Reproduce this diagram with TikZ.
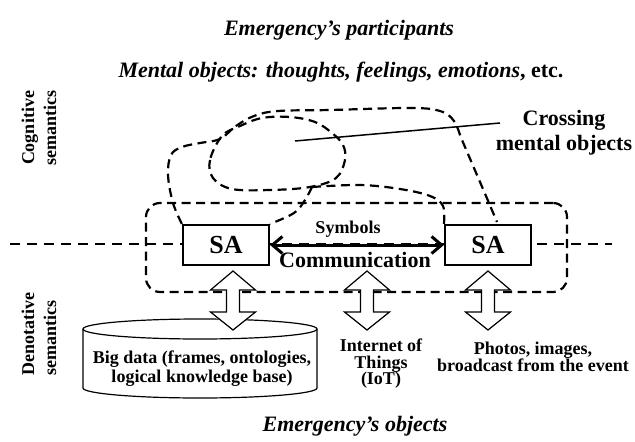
\documentclass[tikz,border=0pt]{standalone}
\usepackage{fontspec}
\setmainfont{Liberation Serif}
\usetikzlibrary{arrows.meta}
\newcommand{\tightlines}{\lineskiplimit=-20pt\relax}
\begin{document}
\begin{tikzpicture}[x=1pt,y=-1pt,
  txt/.style={inner sep=0pt, font=\bfseries},
  dline/.style={line width=2.2pt, dash pattern=on 10pt off 7pt},
  dcurve/.style={line width=2.2pt, dash pattern=on 9pt off 5.5pt},
  sabox/.style={draw, line width=2.2pt, fill=white, minimum width=86pt, minimum height=40pt, inner sep=0pt, font=\fontsize{26}{30}\selectfont\bfseries},
  barrow/.pic={\draw[line width=1.2pt, fill=white] (0,271) -- (22.5,290) -- (6.5,290) -- (6.5,312) -- (22.5,312) -- (0,330) -- (-22.5,312) -- (-6.5,312) -- (-6.5,290) -- (-22.5,290) -- cycle;},
  barb/.tip={Straight Barb[length=10pt,width=17pt]}
]
\path[use as bounding box] (0,0) rectangle (635,442);

% titles
\node[txt, anchor=base, font=\fontsize{22}{25}\selectfont\bfseries\itshape] (title) at (339,35) {Emergency’s participants};
\node[txt, anchor=base, font=\fontsize{22}{25}\selectfont\bfseries\itshape] (mental) at (341,77) {Mental objects: thoughts, feelings, emotions{\upshape, etc.}};
\node[txt, anchor=base, font=\fontsize{22}{25}\selectfont\bfseries\itshape] (objects) at (355,431) {Emergency’s objects};

% side labels
\node[txt, rotate=90, align=center, font=\fontsize{18}{22}\selectfont\bfseries] (cog) at (39,128) {Cognitive\\semantics};
\node[txt, rotate=90, anchor=west, align=left, font=\fontsize{18}{22}\selectfont\bfseries] (den) at (39,376) {Denotative\\semantics};

% horizontal dashed line
\coordinate (hl) at (10,244);
\coordinate (hr) at (612,244);
\draw[dline] (hl) -- (hr);

% communication frame
\node[draw, dcurve, rounded corners=14pt, minimum width=421pt, minimum height=89pt, inner sep=0pt] (frame) at (356.5,247.5) {};

% mental object curves
\draw[dcurve] plot[smooth cycle, tension=0.6] coordinates {(222,136) (210,160) (213,178) (232,189) (270,190) (310,187) (336,178) (345,160) (343,145) (332,133) (315,122) (290,117) (262,118) (240,126)};

% boxes
\node[sabox] (sa1) at (226,245) {SA};
\node[sabox] (sa2) at (488,245) {SA};

\draw[dcurve] plot[smooth, tension=0.6] coordinates {(sa1.north west) (173,203) (168,175) (171,155) (182,147) (200,143) (220,139) (236,126) (254,116) (278,111) (330,110) (410,108) (440,111) (454,121) (462,140) (474,168) (486,196) (497,222)};
\draw[dcurve] plot[smooth, tension=0.6] coordinates {(312,187) (305,200) (294,213) (sa1.north east)};
\draw[dcurve] plot[smooth, tension=0.6] coordinates {(312,187) (360,185) (400,189) (430,196) (443,206) (sa2.north west)};

% crossing line
\coordinate (l1) at (295,141);
\coordinate (l2) at (500,123);
\draw[line width=1.5pt] (l1) -- (l2);
\node[txt, align=center, font=\fontsize{22}{25}\selectfont\bfseries] (cross) at (564,133) {Crossing\\mental objects};

% communication arrow
\draw[line width=3pt, barb-barb] (sa1.east) -- (sa2.west);
\node[txt, anchor=base, font=\fontsize{18}{20}\selectfont\bfseries] (sym) at (348,233) {Symbols};
\node[txt, anchor=base, font=\fontsize{22}{25}\selectfont\bfseries] (com) at (355,267) {Communication};

% cylinder
\draw[line width=1.2pt, fill=white] (83,329) -- (83,388) .. controls (83,393.5) and (135.4,398) .. (200,398) .. controls (264.6,398) and (317,393.5) .. (317,388) -- (317,329);
\draw[line width=1.2pt, fill=white] (200,329) ellipse [x radius=117, y radius=10];
\node[txt, align=center, font=\fontsize{18}{19}\selectfont\bfseries] (big) at (202,369) {Big data (frames, ontologies,\\logical knowledge base)};

% block arrows
\pic at (233,0) {barrow};
\pic at (367,0) {barrow};
\pic at (488,0) {barrow};

% source labels
\node[txt, align=center, font={\fontsize{18}{16.5}\selectfont\bfseries\tightlines}] (iot) at (381,364) {Internet of\\Things\\(IoT)};
\node[txt, align=center, font={\fontsize{18}{17}\selectfont\bfseries\tightlines}] (photo) at (533,357) {Photos, images,\\broadcast from the event};
\end{tikzpicture}
\end{document}
